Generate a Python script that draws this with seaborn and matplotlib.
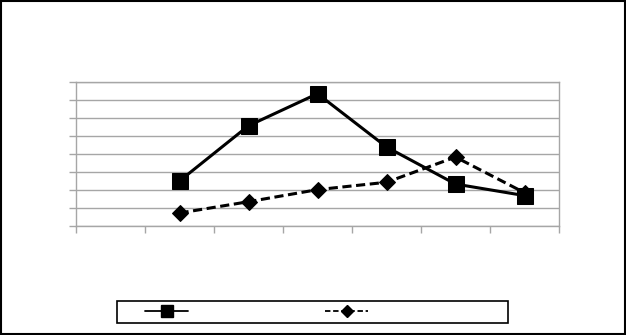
import matplotlib
matplotlib.use("Agg")
import matplotlib.pyplot as plt
import seaborn as sns
import pandas as pd
from matplotlib.lines import Line2D

# data (category positions 0..6; first category empty)
categories = [1, 2, 3, 4, 5, 6]
series_a = [2.5, 5.57, 7.35, 4.39, 2.33, 1.69]
series_b = [0.72, 1.35, 2.02, 2.43, 3.83, 1.85]

df_a = pd.DataFrame({"x": categories, "y": series_a})
df_b = pd.DataFrame({"x": categories, "y": series_b})

sns.set_style("white")
fig = plt.figure(figsize=(6.26, 3.35), dpi=100)
ax = fig.add_axes([76/626, 1-226/335, (559-76)/626, (226-82)/335])

sns.lineplot(data=df_a, x="x", y="y", ax=ax, color="black", linewidth=2.2,
             marker="s", markersize=11, markeredgecolor="black", zorder=3)
sns.lineplot(data=df_b, x="x", y="y", ax=ax, color="black", linewidth=2.2,
             marker="D", markersize=8, markeredgecolor="black",
             linestyle=(0, (3, 1.5)), zorder=3)

ax.set_xlim(-0.5, 6.5)
ax.set_ylim(0, 8)
ax.set_xticks([i - 0.5 for i in range(8)])
ax.set_yticks(range(9))
ax.set_xticklabels([])
ax.set_yticklabels([])
ax.set_xlabel("")
ax.set_ylabel("")
ax.grid(axis="y", color="#a6a6a6", linewidth=1)
ax.grid(axis="x", visible=False)
ax.tick_params(axis="both", direction="out", length=5, color="#a6a6a6",
               width=1, bottom=True, left=True)
for s in ax.spines.values():
    s.set_color("#a6a6a6")
    s.set_linewidth(1)
    s.set_visible(True)

handles = [
    Line2D([], [], color="black", linewidth=1.3, marker="s", markersize=8),
    Line2D([], [], color="black", linewidth=1.3, marker="D", markersize=6,
           linestyle=(0, (3, 1.5))),
]
em = 10 * 100 / 72
leg = fig.legend(handles, ["", ""], ncol=2,
                 bbox_to_anchor=(145/626, 1-312/335),
                 loc="center left", frameon=False,
                 handlelength=43/em, handletextpad=0, columnspacing=137/em,
                 borderpad=0, borderaxespad=0)

fig.patches.append(plt.Rectangle((117/626, 1-323/335), (508-117)/626, 22/335,
                                 transform=fig.transFigure, fill=False,
                                 edgecolor="black", linewidth=1.2))
fig.patches.append(plt.Rectangle((0.001, 0.002), 0.997, 0.995, transform=fig.transFigure,
                                 fill=False, edgecolor="black", linewidth=1.5))

fig.savefig("out.png", dpi=100)
